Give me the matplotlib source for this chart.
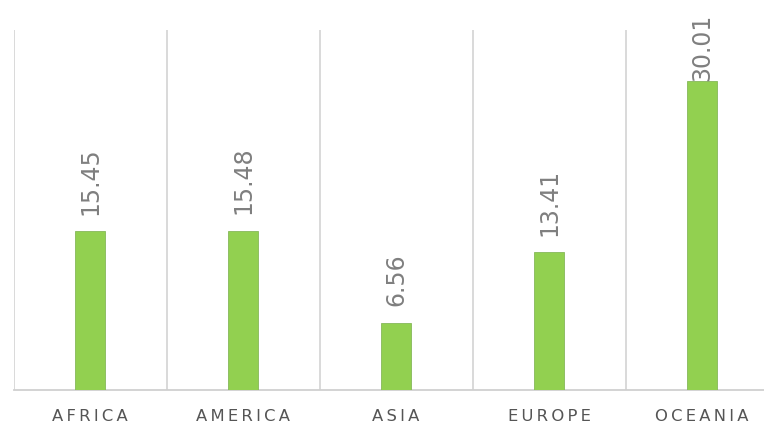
import numpy as np
import matplotlib.pyplot as plt

# Datos por continente
continentes = ["AFRICA", "AMERICA", "ASIA", "EUROPE", "OCEANIA"]
valores = [15.45, 15.48, 6.56, 13.41, 30.01]

color_barra = "#92D050"
color_borde = "#86b85a"
color_linea = "#d0d0d0"

fig = plt.figure(figsize=(7.64, 4.26), dpi=100)
# el area de grafico se sale un poco por la derecha
ax = fig.add_axes([13.5 / 764, 36 / 426, 765 / 764, 360 / 426])

x = np.arange(len(continentes))
ax.bar(x, valores, width=0.2, color=color_barra, edgecolor=color_borde,
       linewidth=0.6, zorder=3)

ax.set_xlim(-0.5, len(continentes) - 0.5)
ax.set_ylim(0, 35)

# lineas verticales entre categorias
for b in np.arange(-0.5, len(continentes), 1.0):
    ax.axvline(b, color=color_linea, linewidth=1.1, zorder=1)

for s in ["top", "right", "left"]:
    ax.spines[s].set_visible(False)
ax.spines["bottom"].set_color(color_linea)
ax.spines["bottom"].set_linewidth(1.3)

ax.set_yticks([])
ax.set_xticks(x)
# letras espaciadas con espacio fino
etiquetas = ["\u2009".join(c) for c in continentes]
ax.set_xticklabels(etiquetas, fontsize=11.8, color="#555555")
ax.tick_params(axis="x", length=0, pad=14)

# etiquetas de valor giradas
tope = max(valores)
for xi, v in zip(x, valores):
    y_txt = min(v + 1.6, tope)
    ax.text(xi, y_txt, f"{v:.2f}", rotation=90, ha="center", va="bottom",
            fontsize=17, color="#7f7f7f", zorder=4, clip_on=False)

fig.savefig("out.png", dpi=100)
